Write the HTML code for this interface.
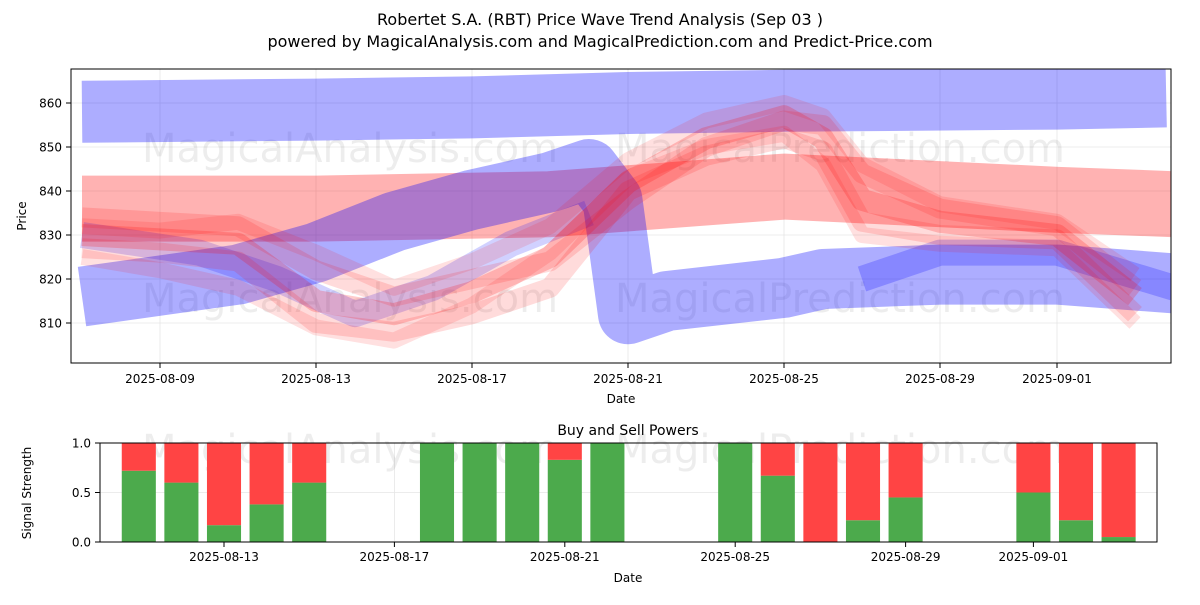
<!DOCTYPE html>
<html><head><meta charset="utf-8"><style>
body{margin:0;background:#fff;font-family:"Liberation Sans","DejaVu Sans",sans-serif}
svg text{font-family:"DejaVu Sans","Liberation Sans",sans-serif}
</style></head><body>
<svg id="c" width="1200" height="600" xmlns="http://www.w3.org/2000/svg">
<defs><clipPath id="clipTop"><rect x="71" y="69" width="1100" height="294"/></clipPath></defs>
<text x="600" y="25" font-size="16" text-anchor="middle">Robertet S.A. (RBT) Price Wave Trend Analysis (Sep 03 )</text>
<text x="600" y="47" font-size="16" text-anchor="middle">powered by MagicalAnalysis.com and MagicalPrediction.com and Predict-Price.com</text>
<g id="topg"></g>
<g id="botg"></g>
</svg>
<script>
const NS="http://www.w3.org/2000/svg";
const blueDates=["08-07","08-13","08-17","08-21","08-25","09-01","09-03.8"];
const blueTop=[858,858.5,859,860,860.5,861,861.5];
const blue2Dates=["08-07","08-11","08-13","08-15","08-17","08-19","08-20","08-20.6","08-21","08-22","08-25","08-26","08-29","09-01","09-04"];
const blue2=[816,821,826,833,838,842,845,838,812,815,818,820,821,821,819];
const blue3Dates=["08-07","08-10","08-12","08-14","08-16","08-18","08-20"];
const blue3=[830,826,820,812,818,828,835];
const blue4Dates=["08-27","08-29","09-01","09-04"];
const blue4=[820,826,826,818];
const redWideDates=["08-07","08-13","08-19","08-25","09-01","09-04"];
const redWide=[836,836,837,841,838,837];
const waveDates=["08-07","08-09","08-11","08-13","08-15","08-17","08-19","08-21","08-23","08-25","08-26","08-27","08-29","09-01","09-03"];
const wave1=[830,829,828,815,812,817,825,842,852,857,852,838,833,830,816];
const wave2=[834,833,832,822,816,820,824,838,850,856,855,844,836,832,818];
const wave3=[827,826,824,810,808,812,818,840,848,852,849,833,830,829,812];
const wave4=[832,831,833,826,818,824,832,847,856,860,857,846,837,833,821];
const wave5=[825,822,818,809,806,814,826,843,850,853,846,830,828,827,810];
const barDates=["08-11","08-12","08-13","08-14","08-15","08-18","08-19","08-20","08-21","08-22","08-25","08-26","08-27","08-28","08-29","09-01","09-02","09-03"];
const buyVals=[0.72,0.6,0.17,0.38,0.6,1,1,1,0.83,1,1,0.67,0,0.22,0.45,0.5,0.22,0.05];
const priceTicks=[810,820,830,840,850,860];
const topDateTicks=["08-09","08-13","08-17","08-21","08-25","08-29","09-01"];
const botDateTicks=["08-13","08-17","08-21","08-25","08-29","09-01"];
const sigTicks=[0,0.5,1];

function dnum(s){const [m,d]=s.split("-");return (m==="08"?0:31)+parseFloat(d);}
const X1=d=>160+(dnum(d)-9)*39;
const Y1=v=>103+(860-v)*4.4;
const X2=d=>224+(dnum(d)-13)*42.6;
const Y2=v=>542-v*99;
function el(t,a,p){const e=document.createElementNS(NS,t);for(const k in a)e.setAttribute(k,a[k]);p.appendChild(e);return e;}
const topG=document.getElementById("topg"),botG=document.getElementById("botg");

let r=el("rect",{x:71,y:69,width:1100,height:294,fill:"#fff",stroke:"none"},topG);


priceTicks.forEach(v=>{const y=Y1(v);
 let g=el("line",{x1:71,x2:1171,y1:y,y2:y,stroke:"#e6e6e6","stroke-width":0.8},topG);
 
 
 el("line",{x1:66,x2:71,y1:y,y2:y,stroke:"#000"},topG);
 let t=el("text",{x:62,y:y+4.5,"font-size":12,"text-anchor":"end"},topG);t.textContent=v;
 
 });
topDateTicks.forEach(d=>{const x=X1(d);
 let g=el("line",{x1:x,x2:x,y1:69,y2:363,stroke:"#e6e6e6","stroke-width":0.8},topG);
 
 
 el("line",{x1:x,x2:x,y1:363,y2:368,stroke:"#000"},topG);
 let t=el("text",{x:x,y:383,"font-size":12,"text-anchor":"middle"},topG);t.textContent="2025-"+d;
 
 });
function wmark(x,y,txt,p){const w=el("text",{x:x,y:y,"font-size":40,fill:"#000","fill-opacity":0.07,"text-anchor":"middle"},p);w.textContent=txt;
 
 }
wmark(350,162,"MagicalAnalysis.com",topG);wmark(840,162,"MagicalPrediction.com",topG);
wmark(350,312,"MagicalAnalysis.com",topG);wmark(840,312,"MagicalPrediction.com",topG);

const bandG=el("g",{"clip-path":"url(#clipTop)"},topG);


function band(dates,vals,color,w,op,name){
 const pts=dates.map((d,i)=>X1(d).toFixed(1)+","+Y1(vals[i]).toFixed(1)).join(" ");
 const p=el("polyline",{points:pts,fill:"none",stroke:color,"stroke-width":w,"stroke-opacity":op,"stroke-linejoin":"round","stroke-linecap":"butt"},bandG);
 
 }
band(redWideDates,redWide,"#ff0000",66,0.3,"red-wide-band");
band(blueDates,blueTop,"#0000ff",62,0.32,"blue-upper-band");
band(blue2Dates,blue2,"#0000ff",60,0.32,"blue-lower-band");
band(blue3Dates,blue3,"#0000ff",26,0.18,"blue-wave-band");
band(blue4Dates,blue4,"#0000ff",26,0.22,"blue-late-band");
[[wave1,22,0.2],[wave2,20,0.14],[wave3,20,0.14],[wave4,16,0.12],[wave5,16,0.12]].forEach((w,i)=>band(waveDates,w[0],"#ff0000",w[1],w[2],"red-wave-"+(i+1)));

el("rect",{x:71,y:69,width:1100,height:294,fill:"none",stroke:"#000","stroke-width":1},topG);
let yl=el("text",{x:26,y:216,"font-size":12,"text-anchor":"middle",transform:"rotate(-90 26 216)"},topG);yl.textContent="Price";


let xl=el("text",{x:621,y:403,"font-size":12,"text-anchor":"middle"},topG);xl.textContent="Date";



let bt=el("text",{x:628,y:435,"font-size":14,"text-anchor":"middle"},botG);bt.textContent="Buy and Sell Powers";


sigTicks.forEach(v=>{const y=Y2(v);
 let g=el("line",{x1:100,x2:1157,y1:y,y2:y,stroke:"#e6e6e6","stroke-width":0.8},botG);
 
 
 el("line",{x1:95,x2:100,y1:y,y2:y,stroke:"#000"},botG);
 let t=el("text",{x:91,y:y+4.5,"font-size":12,"text-anchor":"end"},botG);t.textContent=v.toFixed(1);
 
 });
botDateTicks.forEach(d=>{const x=X2(d);
 let g=el("line",{x1:x,x2:x,y1:443,y2:542,stroke:"#e6e6e6","stroke-width":0.8},botG);
 
 
 el("line",{x1:x,x2:x,y1:542,y2:547,stroke:"#000"},botG);
 let t=el("text",{x:x,y:561,"font-size":12,"text-anchor":"middle"},botG);t.textContent="2025-"+d;
 
 });
wmark(350,463,"MagicalAnalysis.com",botG);wmark(840,463,"MagicalPrediction.com",botG);
const bw=0.8*42.6;
barDates.forEach((d,i)=>{const x=X2(d)-bw/2,b=buyVals[i];
 const g=el("rect",{x:x,y:Y2(b),width:bw,height:Y2(0)-Y2(b),fill:"#4caa4c"},botG);
 
 
 const s=el("rect",{x:x,y:Y2(1),width:bw,height:Y2(b)-Y2(1),fill:"#ff4444"},botG);
 
 });
el("rect",{x:100,y:443,width:1057,height:99,fill:"none",stroke:"#000","stroke-width":1},botG);
yl=el("text",{x:31,y:493,"font-size":12,"text-anchor":"middle",transform:"rotate(-90 31 493)"},botG);yl.textContent="Signal Strength";


xl=el("text",{x:628,y:582,"font-size":12,"text-anchor":"middle"},botG);xl.textContent="Date";


</script>
</body></html>
